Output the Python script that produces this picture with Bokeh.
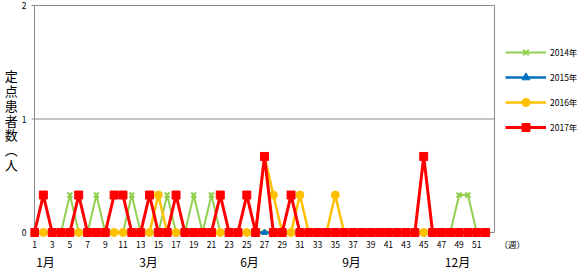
from bokeh.plotting import figure
from bokeh.models import Range1d, FixedTicker, Legend, LegendItem, LinearAxis
from bokeh.embed import file_html
from bokeh.resources import INLINE

# ---------------- data ----------------
weeks = list(range(1, 53))
y2014 = [0, 0, 0, 0, 0.33, 0, 0, 0.33, 0, 0, 0, 0.33, 0,
         0, 0, 0.33, 0, 0, 0.33, 0, 0.33, 0, 0, 0, 0, 0,
         0, 0, 0, 0, 0, 0, 0, 0, 0, 0, 0, 0, 0,
         0, 0, 0, 0, 0, 0, 0, 0, 0, 0.33, 0.33, 0, 0]
y2015 = [0, 0, 0, 0, 0, 0, 0, 0, 0, 0, 0, 0, 0,
         0, 0, 0, 0, 0, 0, 0, 0, 0, 0, 0, 0, 0,
         0, 0, 0, 0, 0, 0, 0, 0, 0, 0, 0, 0, 0,
         0, 0, 0, 0, 0, 0, 0, 0, 0, 0, 0, 0, 0]
y2016 = [0, 0, 0, 0, 0, 0, 0, 0, 0, 0, 0, 0, 0,
         0, 0.33, 0, 0, 0, 0, 0, 0, 0, 0, 0, 0, 0,
         0.67, 0.33, 0, 0, 0.33, 0, 0, 0, 0.33, 0, 0, 0, 0,
         0, 0, 0, 0, 0, 0, 0, 0, 0, 0, 0, 0, 0]
y2017 = [0, 0.33, 0, 0, 0, 0.33, 0, 0, 0, 0.33, 0.33, 0, 0,
         0.33, 0, 0, 0.33, 0, 0, 0, 0, 0.33, 0, 0, 0.33, 0,
         0.67, 0, 0, 0.33, 0, 0, 0, 0, 0, 0, 0, 0, 0,
         0, 0, 0, 0, 0, 0.67, 0, 0, 0, 0, 0, 0, 0]
series_names = ["2014年", "2015年", "2016年", "2017年"]
x_ticks = list(range(1, 53, 2))
y_ticks = [0, 1, 2]
month_labels = ["1月", "3月", "6月", "9月", "12月"]
month_weeks = [2.24, 13.89, 25.3, 36.84, 48.82]
y_title = "定\n点\n患\n者\n数\n︵\n人"
x_unit_label = "（週）"
x_unit_pos = 55
week_min, week_max = 1, 53
y_min, y_max = 0, 2

# ---------------- layout helpers ----------------
PXW = 460 / 52.0      # px per week
PXU = 227 / 2.0       # px per unit
def dx(px):
    return 1 + (px - 34) / PXW
def dy(py):
    return (232 - py) / PXU

FONT = "Noto Sans CJK JP"
GRAY = "#8a8a8a"

p = figure(width=583, height=273, output_backend="svg", toolbar_location=None,
           x_range=Range1d(dx(30), dx(583)), y_range=Range1d(dy(237), dy(2)),
           min_border_left=30, min_border_right=0, min_border_top=2,
           min_border_bottom=36, title=None)
p.outline_line_color = None
p.background_fill_color = "white"
p.border_fill_color = "white"
p.xgrid.visible = False
p.ygrid.visible = False

# axes
p.xaxis.ticker = FixedTicker(ticks=x_ticks + [x_unit_pos])
p.xaxis.major_label_overrides = {x_unit_pos: x_unit_label}
p.yaxis.ticker = FixedTicker(ticks=y_ticks)
for ax in (p.xaxis, p.yaxis):
    ax.axis_line_color = None
    ax.major_tick_line_color = None
    ax.minor_tick_line_color = None
    ax.major_tick_in = 0
    ax.major_tick_out = 0
    ax.major_label_text_font = FONT
    ax.major_label_text_font_size = "8.5px"
    ax.major_label_text_color = "#000000"
p.xaxis.major_label_standoff = 0
p.yaxis.major_label_standoff = 4

p.yaxis.axis_label = y_title
p.yaxis.axis_label_orientation = "horizontal"
p.yaxis.axis_label_text_font = FONT
p.yaxis.axis_label_text_font_size = "13px"
p.yaxis.axis_label_text_font_style = "normal"
p.yaxis.axis_label_text_color = "#000000"
p.yaxis.axis_label_text_line_height = 0.787
p.yaxis.axis_label_standoff = 1

month_axis = LinearAxis(ticker=FixedTicker(ticks=month_weeks),
                        major_label_overrides=dict(zip(month_weeks, month_labels)))
month_axis.axis_line_color = None
month_axis.major_tick_line_color = None
month_axis.minor_tick_line_color = None
month_axis.major_tick_in = 0
month_axis.major_tick_out = 0
month_axis.major_label_standoff = 0
month_axis.major_label_text_font = FONT
month_axis.major_label_text_font_size = "12px"
month_axis.major_label_text_color = "#000000"
p.add_layout(month_axis, "below")

# gridlines / plot-area border
p.segment(x0=[dx(31)] * 3, y0=y_ticks, x1=[week_max] * 3, y1=y_ticks,
          line_color=GRAY, line_width=1)
p.segment(x0=[week_min, week_max], y0=[y_min, y_min], x1=[week_min, week_max],
          y1=[y_max, y_max], line_color=GRAY, line_width=1)

# series
colors = ["#92D050", "#0070C0", "#FFC000", "#FF0000"]
widths = [2, 2.5, 2.5, 3]
markers = ["x", "triangle", "circle", "square"]
msizes = [7, 6, 8, 8]
data = [y2014, y2015, y2016, y2017]
items = []
for name, ys, c, w, m, s in zip(series_names, data, colors, widths, markers, msizes):
    ln = p.line(weeks, ys, line_color=c, line_width=w)
    if m == "x":
        sc = p.scatter(weeks, ys, marker=m, size=s, line_color=c, line_width=2)
    else:
        sc = p.scatter(weeks, ys, marker=m, size=s, fill_color=c, line_color=c)
    items.append(LegendItem(label=name, renderers=[ln, sc]))

# legend: glyph 505-546 px, rows centred at 52/76/101/126 px
legend = Legend(items=items, location=(475, 100), orientation="vertical",
                glyph_width=41, glyph_height=20, label_height=20, spacing=5,
                label_standoff=4, padding=0, margin=0,
                label_text_font=FONT, label_text_font_size="8.5px",
                label_text_color="#000000", label_text_baseline="middle",
                background_fill_alpha=0, border_line_color=None)
p.add_layout(legend, "center")

open("out.html", "w").write(file_html(p, INLINE))
